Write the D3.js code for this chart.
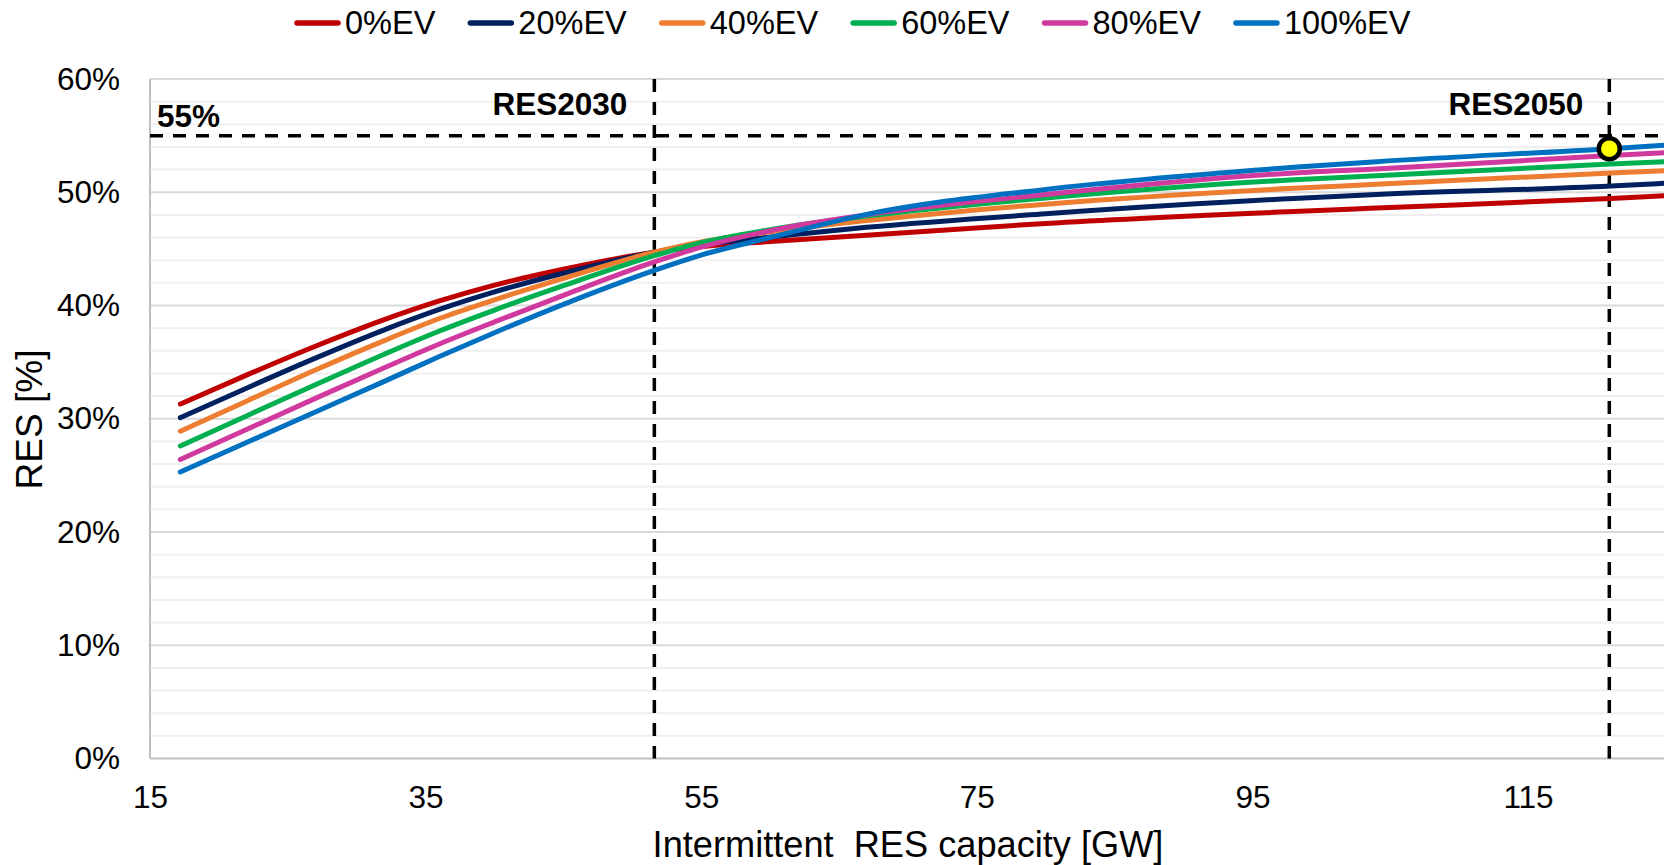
<!DOCTYPE html>
<html>
<head>
<meta charset="utf-8">
<script src="https://cdn.jsdelivr.net/npm/d3@7"></script>
<style>
  body { margin: 0; background: #ffffff; }
  svg { display: block; }
  text { font-family: "Liberation Sans", Arial, Helvetica, sans-serif; fill: #000; }
</style>
</head>
<body>
<svg id="chart" width="1664" height="865"></svg>
<script>
// Installed intermittent RES capacity [GW] at which each scenario is sampled
const capacity = [17.2, 22, 27, 32, 36, 40, 45, 51.6, 55, 60, 67, 80, 98, 104, 121, 125];

// RES share [%] for each EV penetration scenario
const ev0   = [31.3, 33.85, 36.4, 38.75, 40.4, 41.8, 43.2, 44.7, 45.2, 45.65, 46.2, 47.25, 48.3, 48.6, 49.45, 49.7];
const ev20  = [30.1, 32.7, 35.35, 37.85, 39.65, 41.2, 42.85, 44.7, 45.35, 46.05, 46.9, 48.1, 49.45, 49.8, 50.55, 50.8];
const ev40  = [28.9, 31.55, 34.3, 36.9, 38.85, 40.5, 42.4, 44.7, 45.6, 46.5, 47.5, 48.95, 50.35, 50.7, 51.7, 51.9];
const ev60  = [27.6, 30.25, 33.0, 35.7, 37.75, 39.6, 41.75, 44.4, 45.55, 46.7, 47.9, 49.5, 51.1, 51.45, 52.5, 52.7];
const ev80  = [26.4, 29.05, 31.8, 34.5, 36.6, 38.55, 40.9, 43.85, 45.15, 46.6, 48.0, 49.8, 51.7, 52.05, 53.25, 53.5];
const ev100 = [25.3, 27.9, 30.6, 33.3, 35.5, 37.6, 40.1, 43.1, 44.45, 46.0, 48.05, 50.25, 52.2, 52.7, 53.85, 54.15];

const seriesNames  = ["0%EV", "20%EV", "40%EV", "60%EV", "80%EV", "100%EV"];
const seriesValues = [ev0, ev20, ev40, ev60, ev80, ev100];
const seriesColors = ["#C00000", "#002060", "#ED7D31", "#00B050", "#D0399E", "#0070C0"];

// Axis ticks
const xTicks = [15, 35, 55, 75, 95, 115];
const yMajorTicks = [0, 10, 20, 30, 40, 50, 60];
const yMinorTicks = d3.range(2, 60, 2).filter(v => v % 10 !== 0);

// Reference markers
const res2030Capacity = 51.6;
const res2050Capacity = 120.9;
const targetShare = 55;
const res2050Share = 53.85;

const svg = d3.select("#chart");

const x = d3.scaleLinear().domain([15, 125]).range([150, 1665.8]);
const y = d3.scaleLinear().domain([0, 60]).range([758.5, 79]);

const plotLeft = x(15), plotRight = 1664, plotTop = y(60), plotBottom = y(0);

// Minor gridlines every 2 %
svg.append("g").selectAll("line").data(yMinorTicks).join("line")
  .attr("x1", plotLeft).attr("x2", plotRight)
  .attr("y1", d => y(d)).attr("y2", d => y(d))
  .attr("stroke", "#efefef").attr("stroke-width", 2);

// Major gridlines every 10 %
svg.append("g").selectAll("line").data(yMajorTicks.filter(d => d > 0)).join("line")
  .attr("x1", plotLeft).attr("x2", plotRight)
  .attr("y1", d => y(d)).attr("y2", d => y(d))
  .attr("stroke", "#d9d9d9").attr("stroke-width", 2);

// Axis lines
svg.append("line")
  .attr("x1", plotLeft).attr("x2", plotLeft).attr("y1", plotTop).attr("y2", plotBottom)
  .attr("stroke", "#bfbfbf").attr("stroke-width", 2);
svg.append("line")
  .attr("x1", plotLeft).attr("x2", plotRight).attr("y1", plotBottom).attr("y2", plotBottom)
  .attr("stroke", "#bfbfbf").attr("stroke-width", 2);

// Y axis tick labels
const yAxis = svg.append("g")
  .attr("transform", `translate(${plotLeft},0)`)
  .call(d3.axisLeft(y).tickValues(yMajorTicks).tickSize(0).tickPadding(30).tickFormat(d => d + "%"));
yAxis.select(".domain").remove();
yAxis.selectAll("text").attr("font-size", 31.5).attr("font-family", null).attr("fill", "#000");

// X axis tick labels
const xAxis = svg.append("g")
  .attr("transform", `translate(0,${plotBottom})`)
  .call(d3.axisBottom(x).tickValues(xTicks).tickSize(0).tickPadding(27).tickFormat(d3.format("d")));
xAxis.select(".domain").remove();
xAxis.selectAll("text").attr("font-size", 31.5).attr("font-family", null).attr("fill", "#000");

// Axis titles
svg.append("text")
  .attr("x", 908).attr("y", 857)
  .attr("text-anchor", "middle").attr("font-size", 36.2)
  .attr("xml:space", "preserve")
  .text("Intermittent  RES capacity [GW]");

svg.append("text")
  .attr("transform", "translate(42,419.5) rotate(-90)")
  .attr("text-anchor", "middle").attr("font-size", 37)
  .text("RES [%]");

// Dashed reference lines
const dash = "13,10";
svg.append("line")
  .attr("x1", plotLeft).attr("x2", plotRight)
  .attr("y1", y(targetShare)).attr("y2", y(targetShare))
  .attr("stroke", "#000").attr("stroke-width", 3.5).attr("stroke-dasharray", dash);
[res2030Capacity, res2050Capacity].forEach(c => {
  svg.append("line")
    .attr("x1", x(c)).attr("x2", x(c))
    .attr("y1", plotTop).attr("y2", plotBottom)
    .attr("stroke", "#000").attr("stroke-width", 3.5).attr("stroke-dasharray", dash);
});

// Scenario curves
const line = d3.line()
  .x((d, i) => x(capacity[i]))
  .y(d => y(d))
  .curve(d3.curveMonotoneX);

svg.append("g").selectAll("path").data(seriesValues).join("path")
  .attr("d", d => line(d))
  .attr("fill", "none")
  .attr("stroke", (d, i) => seriesColors[i])
  .attr("stroke-width", 5)
  .attr("stroke-linecap", "round")
  .attr("stroke-linejoin", "round");

// Annotations
svg.append("text")
  .attr("x", 157).attr("y", 126.5)
  .attr("font-size", 31.5).attr("font-weight", "bold")
  .text(targetShare + "%");
svg.append("text")
  .attr("x", x(res2030Capacity) - 27).attr("y", 115)
  .attr("text-anchor", "end").attr("font-size", 31.5).attr("font-weight", "bold")
  .text("RES2030");
svg.append("text")
  .attr("x", x(res2050Capacity) - 26).attr("y", 115)
  .attr("text-anchor", "end").attr("font-size", 31.5).attr("font-weight", "bold")
  .text("RES2050");

// 2050 operating point
svg.append("circle")
  .attr("cx", x(res2050Capacity)).attr("cy", y(res2050Share))
  .attr("r", 10.5)
  .attr("fill", "#FFFF00").attr("stroke", "#000").attr("stroke-width", 4.5);

// Legend
const legend = svg.append("g");
let lx = 295;
seriesNames.forEach((name, i) => {
  legend.append("line")
    .attr("x1", lx + 2).attr("x2", lx + 43)
    .attr("y1", 23).attr("y2", 23)
    .attr("stroke", seriesColors[i]).attr("stroke-width", 5.5).attr("stroke-linecap", "round");
  const t = legend.append("text")
    .attr("x", lx + 50).attr("y", 33.5)
    .attr("font-size", 32.5)
    .text(name);
  lx = lx + 50 + t.node().getComputedTextLength() + 33;
});
</script>
</body>
</html>
